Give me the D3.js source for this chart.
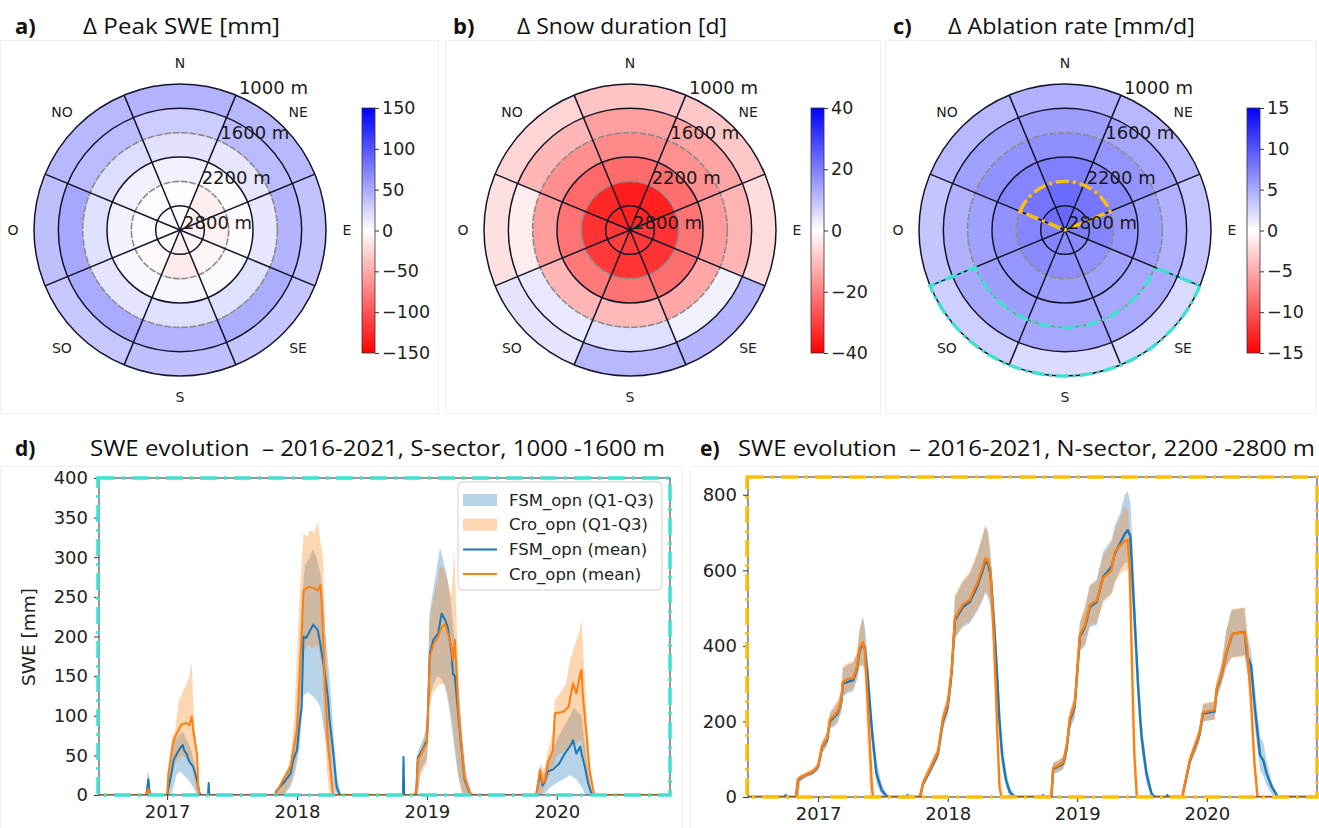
<!DOCTYPE html>
<html><head><meta charset="utf-8">
<script src="https://cdn.jsdelivr.net/npm/d3@7"></script>
<style>body{margin:0;background:#fff}svg{display:block}text{white-space:pre}</style>
</head><body>
<svg id="c" width="1319" height="828"></svg>
<script>
// ---------------- DATA ----------------
const sectors = ["N","NE","E","SE","S","SO","O","NO"];
const elevLabels = ["2800 m","2200 m","1600 m","1000 m"]; // ring edges 0,2,4,6
// rows: ring 0 (centre, 2800-2500 m) ... ring 5 (outer, 1300-1000 m); columns: sectors
const peakSWE = [
  [2,-8,-8,-5,-10,-3,0,2],
  [1,-10,-8,-6,-12,-4,2,2],
  [8,2,1,3,4,4,7,8],
  [17,15,14,18,19,16,18,20],
  [30,40,45,48,45,50,52,40],
  [45,42,36,34,37,33,37,42]
];
const snowDuration = [
  [-35,-34,-31,-31,-31,-30,-31,-34],
  [-35.6,-35,-32,-32,-32,-31,-32,-34],
  [-23.3,-22.7,-21.6,-22.7,-22,-21,-22,-23.6],
  [-18.3,-17.4,-15.5,-13.9,-11,-11.5,-15.5,-17.8],
  [-14.9,-14.3,-11.8,2,5,3.5,-3,-11.5],
  [-9.3,-8.6,-5.5,11.8,11.2,4.2,-4.7,-6.7]
];
const ablationRate = [
  [8.8,8.5,7.6,6.9,6.9,7.2,7.6,8.5],
  [8.7,8.1,7.2,6.5,6.6,6.9,7.2,8.2],
  [7.5,6.9,6.2,5.6,5.7,6.2,6.5,7.2],
  [6.6,6.3,5.7,5.2,5.3,5.7,5.6,6.5],
  [5.7,5.3,4.6,5.0,5.2,5.1,4.6,5.6],
  [4.6,4.2,3.5,2.1,2.1,2.8,3.5,4.2]
];
const ticksA = [150,100,50,0,-50,-100,-150];
const ticksB = [40,20,0,-20,-40];
const ticksC = [15,10,5,0,-5,-10,-15];
const yearTicks = [2017,2018,2019,2020];
const yTicksD = [0,50,100,150,200,250,300,350,400];
const yTicksE = [0,200,400,600,800];
const legendLabels = ["FSM_opn (Q1-Q3)","Cro_opn (Q1-Q3)","FSM_opn (mean)","Cro_opn (mean)"];

// Panel d: S-sector 1000-1600 m  [decimal year, SWE mm]
const dFsmMean = [[2016.45,0],[2016.84,0],[2016.85,12],[2016.856,20],[2016.865,5],[2016.875,0],[2017.0,0],[2017.01,8],[2017.036,30],[2017.05,44],[2017.075,52],[2017.10,59],[2017.12,63],[2017.135,55],[2017.15,52],[2017.165,44],[2017.18,40],[2017.20,36],[2017.23,19],[2017.25,2],[2017.26,0],[2017.315,0],[2017.32,15],[2017.325,0],
[2017.83,0],[2017.84,5],[2017.895,15],[2017.95,27],[2017.97,44],[2018.0,57],[2018.02,91],[2018.035,110],[2018.05,200],[2018.07,198],[2018.09,204],[2018.125,215],[2018.16,208],[2018.18,190],[2018.19,179],[2018.215,153],[2018.24,120],[2018.25,95],[2018.28,52],[2018.305,10],[2018.33,0],
[2018.815,0],[2018.82,48],[2018.825,0],[2018.91,0],[2018.92,10],[2018.93,48],[2018.95,52],[2018.98,62],[2019.0,69],[2019.023,179],[2019.05,196],[2019.087,204],[2019.113,229],[2019.14,221],[2019.16,212],[2019.19,179],[2019.20,153],[2019.215,150],[2019.24,103],[2019.27,52],[2019.29,19],[2019.33,2],[2019.35,0],
[2019.84,0],[2019.85,8],[2019.87,28],[2019.89,12],[2019.91,18],[2019.93,30],[2019.97,32],[2020.02,40],[2020.06,52],[2020.10,61],[2020.125,69],[2020.15,52],[2020.18,61],[2020.19,52],[2020.215,36],[2020.24,15],[2020.27,0],[2020.9,0]];
const dCroMean = [[2016.45,0],[2016.84,0],[2016.856,8],[2016.87,0],[2017.0,0],[2017.01,27],[2017.036,56],[2017.05,69],[2017.075,78],[2017.11,89],[2017.15,91],[2017.17,88],[2017.19,99],[2017.20,82],[2017.23,52],[2017.24,10],[2017.25,0],
[2017.83,0],[2017.84,3],[2017.895,20],[2017.95,35],[2017.97,56],[2018.0,82],[2018.02,153],[2018.035,200],[2018.05,258],[2018.09,263],[2018.125,261],[2018.16,258],[2018.18,265],[2018.19,242],[2018.215,137],[2018.24,61],[2018.27,10],[2018.28,0],
[2018.91,0],[2018.92,10],[2018.93,45],[2018.95,50],[2018.98,60],[2019.0,65],[2019.023,175],[2019.05,190],[2019.087,200],[2019.113,212],[2019.14,215],[2019.16,205],[2019.19,185],[2019.20,170],[2019.215,196],[2019.23,150],[2019.24,110],[2019.27,55],[2019.29,22],[2019.33,3],[2019.35,0],
[2019.84,0],[2019.85,8],[2019.87,32],[2019.89,15],[2019.91,19],[2019.93,40],[2019.97,57],[2019.985,103],[2020.02,104],[2020.05,105],[2020.09,111],[2020.125,141],[2020.15,128],[2020.18,153],[2020.19,158],[2020.20,124],[2020.23,73],[2020.25,32],[2020.28,6],[2020.29,0],[2020.9,0]];
const dFsmQ3 = [[2016.45,0],[2016.84,0],[2016.85,30],[2016.86,25],[2016.87,0],[2017.0,0],[2017.01,15],[2017.04,55],[2017.06,70],[2017.09,75],[2017.12,80],[2017.15,70],[2017.18,60],[2017.21,40],[2017.24,15],[2017.26,0],[2017.315,0],[2017.32,20],[2017.325,0],
[2017.84,0],[2017.85,8],[2017.9,25],[2017.95,40],[2017.98,70],[2018.0,100],[2018.02,180],[2018.04,250],[2018.06,290],[2018.1,300],[2018.12,310],[2018.15,300],[2018.18,280],[2018.2,250],[2018.22,200],[2018.25,150],[2018.28,80],[2018.31,20],[2018.34,0],
[2018.815,0],[2018.82,50],[2018.825,0],[2018.91,0],[2018.93,55],[2018.97,70],[2019.0,90],[2019.02,230],[2019.05,260],[2019.08,290],[2019.1,312],[2019.12,300],[2019.15,280],[2019.18,250],[2019.21,200],[2019.24,140],[2019.27,80],[2019.3,30],[2019.34,5],[2019.36,0],
[2019.84,0],[2019.86,20],[2019.87,35],[2019.9,25],[2019.93,45],[2019.97,55],[2020.0,70],[2020.05,85],[2020.1,100],[2020.13,110],[2020.16,105],[2020.19,100],[2020.21,70],[2020.24,30],[2020.27,5],[2020.29,0],[2020.9,0]];
const dFsmQ1 = [[2016.45,0],[2017.03,0],[2017.05,10],[2017.07,25],[2017.1,30],[2017.13,25],[2017.16,20],[2017.2,10],[2017.23,0],
[2017.9,0],[2017.95,10],[2017.98,25],[2018.0,40],[2018.02,60],[2018.05,125],[2018.08,130],[2018.12,125],[2018.15,120],[2018.18,110],[2018.2,90],[2018.22,70],[2018.25,40],[2018.28,10],[2018.3,0],
[2018.93,0],[2018.95,30],[2019.0,45],[2019.02,120],[2019.05,140],[2019.08,150],[2019.12,145],[2019.15,130],[2019.18,100],[2019.21,60],[2019.24,25],[2019.27,5],[2019.29,0],
[2019.9,0],[2019.95,10],[2020.0,15],[2020.05,20],[2020.1,25],[2020.15,20],[2020.19,10],[2020.22,0],[2020.9,0]];
const dCroQ3 = [[2016.45,0],[2016.85,0],[2016.856,10],[2016.87,0],[2017.0,0],[2017.01,30],[2017.04,75],[2017.06,80],[2017.09,120],[2017.12,130],[2017.15,140],[2017.17,150],[2017.19,168],[2017.2,120],[2017.22,60],[2017.24,15],[2017.25,0],
[2017.84,0],[2017.9,20],[2017.95,45],[2017.98,100],[2018.0,180],[2018.02,250],[2018.05,330],[2018.08,325],[2018.1,335],[2018.13,330],[2018.16,345],[2018.18,320],[2018.2,300],[2018.22,200],[2018.25,100],[2018.27,30],[2018.29,0],
[2018.91,0],[2018.93,50],[2018.97,65],[2019.0,85],[2019.02,220],[2019.05,250],[2019.08,270],[2019.1,290],[2019.13,285],[2019.16,270],[2019.19,250],[2019.21,310],[2019.22,260],[2019.24,160],[2019.27,70],[2019.3,20],[2019.33,0],
[2019.84,0],[2019.86,20],[2019.87,40],[2019.9,30],[2019.93,55],[2019.97,80],[2019.985,120],[2020.03,130],[2020.07,140],[2020.1,170],[2020.13,185],[2020.16,200],[2020.18,210],[2020.19,222],[2020.21,160],[2020.23,100],[2020.25,50],[2020.28,10],[2020.3,0],[2020.9,0]];
const dCroQ1 = [[2016.45,0],[2017.01,0],[2017.02,10],[2017.05,35],[2017.08,45],[2017.12,50],[2017.16,45],[2017.19,40],[2017.21,15],[2017.23,0],
[2017.9,0],[2017.95,15],[2017.98,30],[2018.0,50],[2018.02,100],[2018.05,180],[2018.08,190],[2018.12,185],[2018.16,190],[2018.19,170],[2018.21,90],[2018.23,30],[2018.25,0],
[2018.93,0],[2018.95,25],[2019.0,40],[2019.02,110],[2019.05,130],[2019.1,140],[2019.14,140],[2019.18,110],[2019.21,70],[2019.24,25],[2019.27,0],
[2019.88,0],[2019.93,20],[2019.97,35],[2020.0,50],[2020.05,55],[2020.1,60],[2020.15,65],[2020.19,70],[2020.21,40],[2020.24,10],[2020.26,0],[2020.9,0]];

// Panel e: N-sector 2200-2800 m
const eFsmMean = [[2016.45,0],[2016.74,0],[2016.75,5],[2016.77,0],[2016.83,0],[2016.845,45],[2016.86,50],[2016.90,57],[2016.96,66],[2017.0,80],[2017.03,132],[2017.07,150],[2017.09,200],[2017.12,210],[2017.15,221],[2017.18,252],[2017.19,300],[2017.23,305],[2017.27,309],[2017.30,340],[2017.32,389],[2017.345,405],[2017.36,395],[2017.38,330],[2017.40,240],[2017.42,158],[2017.45,62],[2017.49,18],[2017.53,2],[2017.55,0],
[2017.68,0],[2017.69,5],[2017.70,0],[2017.786,0],[2017.81,35],[2017.864,71],[2017.925,115],[2017.964,203],[2018.0,238],[2018.03,327],[2018.056,468],[2018.118,503],[2018.17,516],[2018.226,556],[2018.27,600],[2018.29,622],[2018.31,618],[2018.33,590],[2018.355,470],[2018.38,330],[2018.40,200],[2018.42,110],[2018.45,45],[2018.48,12],[2018.52,0],
[2018.73,0],[2018.735,5],[2018.74,0],[2018.80,0],[2018.814,75],[2018.85,80],[2018.89,88],[2018.917,125],[2018.943,203],[2018.98,238],[2019.02,424],[2019.06,450],[2019.097,503],[2019.15,516],[2019.20,583],[2019.264,609],[2019.29,644],[2019.33,671],[2019.367,697],[2019.39,706],[2019.41,690],[2019.43,556],[2019.47,291],[2019.496,159],[2019.534,62],[2019.573,9],[2019.60,0],
[2019.69,0],[2019.695,5],[2019.70,0],[2019.81,0],[2019.87,97],[2019.92,142],[2019.945,168],[2019.97,221],[2020.06,226],[2020.075,283],[2020.11,318],[2020.15,380],[2020.19,424],[2020.20,432],[2020.29,437],[2020.31,375],[2020.34,349],[2020.37,234],[2020.41,110],[2020.435,97],[2020.46,62],[2020.50,27],[2020.54,4],[2020.55,0],[2020.9,0]];
const eCroMean = [[2016.45,0],[2016.83,0],[2016.845,48],[2016.86,52],[2016.90,58],[2016.96,68],[2017.0,82],[2017.03,135],[2017.07,155],[2017.09,205],[2017.12,215],[2017.15,226],[2017.18,256],[2017.19,305],[2017.23,312],[2017.27,315],[2017.30,345],[2017.32,395],[2017.345,410],[2017.36,390],[2017.37,330],[2017.39,200],[2017.415,25],[2017.425,0],
[2017.786,0],[2017.81,38],[2017.864,75],[2017.925,120],[2017.964,210],[2018.0,245],[2018.03,335],[2018.056,475],[2018.118,510],[2018.17,522],[2018.226,565],[2018.27,608],[2018.29,632],[2018.31,628],[2018.33,600],[2018.35,468],[2018.37,300],[2018.385,150],[2018.40,26],[2018.415,0],
[2018.80,0],[2018.814,78],[2018.85,82],[2018.89,92],[2018.917,130],[2018.943,210],[2018.98,245],[2019.02,430],[2019.06,455],[2019.097,508],[2019.15,520],[2019.20,580],[2019.264,600],[2019.29,650],[2019.33,665],[2019.367,678],[2019.39,680],[2019.405,600],[2019.42,380],[2019.44,115],[2019.46,0],
[2019.81,0],[2019.87,100],[2019.92,145],[2019.945,172],[2019.97,224],[2020.06,230],[2020.075,286],[2020.11,322],[2020.15,383],[2020.19,426],[2020.20,432],[2020.29,436],[2020.31,393],[2020.34,256],[2020.365,97],[2020.39,0],[2020.9,0]];
const eFsmQ3 = [[2016.45,0],[2016.83,0],[2016.845,50],[2016.86,55],[2016.90,62],[2016.96,72],[2017.0,88],[2017.03,145],[2017.07,170],[2017.09,220],[2017.12,235],[2017.15,250],[2017.18,280],[2017.19,340],[2017.23,350],[2017.27,355],[2017.30,380],[2017.32,440],[2017.345,475],[2017.36,450],[2017.38,380],[2017.40,290],[2017.42,200],[2017.45,95],[2017.49,35],[2017.53,8],[2017.56,0],
[2017.786,0],[2017.81,45],[2017.864,85],[2017.925,130],[2017.964,225],[2018.0,265],[2018.03,360],[2018.056,530],[2018.118,570],[2018.17,590],[2018.226,640],[2018.27,690],[2018.29,715],[2018.31,700],[2018.33,640],[2018.355,540],[2018.38,390],[2018.40,250],[2018.42,150],[2018.45,70],[2018.48,25],[2018.52,5],[2018.54,0],
[2018.80,0],[2018.814,90],[2018.85,95],[2018.89,105],[2018.917,150],[2018.943,225],[2018.98,265],[2019.02,460],[2019.06,500],[2019.097,560],[2019.15,575],[2019.20,650],[2019.264,680],[2019.29,720],[2019.33,750],[2019.367,800],[2019.39,810],[2019.41,780],[2019.43,640],[2019.47,350],[2019.496,200],[2019.534,90],[2019.573,20],[2019.60,0],
[2019.81,0],[2019.87,110],[2019.92,160],[2019.945,185],[2019.97,245],[2020.06,252],[2020.075,305],[2020.11,345],[2020.15,440],[2020.19,495],[2020.29,500],[2020.31,430],[2020.34,390],[2020.37,290],[2020.41,160],[2020.435,145],[2020.46,95],[2020.50,40],[2020.54,8],[2020.56,0],[2020.9,0]];
const eFsmQ1 = [[2016.45,0],[2016.85,0],[2016.86,40],[2016.90,50],[2016.96,58],[2017.0,70],[2017.03,115],[2017.07,135],[2017.09,180],[2017.12,185],[2017.15,195],[2017.18,225],[2017.19,265],[2017.23,275],[2017.27,280],[2017.30,310],[2017.32,345],[2017.345,350],[2017.36,340],[2017.38,280],[2017.40,190],[2017.42,120],[2017.45,35],[2017.49,5],[2017.51,0],
[2017.80,0],[2017.81,25],[2017.864,60],[2017.925,100],[2017.964,180],[2018.0,215],[2018.03,295],[2018.056,420],[2018.118,450],[2018.17,460],[2018.226,490],[2018.27,520],[2018.29,540],[2018.31,530],[2018.33,500],[2018.355,400],[2018.38,270],[2018.40,150],[2018.42,75],[2018.45,25],[2018.48,3],[2018.50,0],
[2018.81,0],[2018.814,60],[2018.85,65],[2018.89,72],[2018.917,100],[2018.943,180],[2018.98,210],[2019.02,385],[2019.06,400],[2019.097,450],[2019.15,455],[2019.20,520],[2019.264,540],[2019.29,570],[2019.33,600],[2019.367,620],[2019.39,620],[2019.41,600],[2019.43,470],[2019.47,230],[2019.496,120],[2019.534,35],[2019.573,2],[2019.59,0],
[2019.82,0],[2019.87,85],[2019.92,125],[2019.945,150],[2019.97,200],[2020.06,205],[2020.075,260],[2020.11,295],[2020.15,345],[2020.19,370],[2020.29,375],[2020.31,330],[2020.34,300],[2020.37,180],[2020.41,70],[2020.435,55],[2020.46,30],[2020.50,8],[2020.53,0],[2020.9,0]];
const eCroQ3 = [[2016.45,0],[2016.83,0],[2016.845,52],[2016.86,58],[2016.90,65],[2016.96,76],[2017.0,92],[2017.03,150],[2017.07,175],[2017.09,225],[2017.12,240],[2017.15,255],[2017.18,285],[2017.19,345],[2017.23,355],[2017.27,360],[2017.30,385],[2017.32,445],[2017.345,480],[2017.36,440],[2017.38,300],[2017.40,120],[2017.42,20],[2017.43,0],
[2017.786,0],[2017.81,48],[2017.864,90],[2017.925,135],[2017.964,230],[2018.0,270],[2018.03,365],[2018.056,535],[2018.118,575],[2018.17,595],[2018.226,645],[2018.27,695],[2018.29,720],[2018.31,705],[2018.33,650],[2018.35,520],[2018.37,350],[2018.385,180],[2018.40,40],[2018.42,0],
[2018.80,0],[2018.814,92],[2018.85,97],[2018.89,108],[2018.917,152],[2018.943,228],[2018.98,268],[2019.02,465],[2019.06,505],[2019.097,560],[2019.15,575],[2019.20,640],[2019.264,670],[2019.29,705],[2019.33,740],[2019.367,770],[2019.39,760],[2019.405,680],[2019.42,450],[2019.44,160],[2019.46,10],[2019.47,0],
[2019.81,0],[2019.87,112],[2019.92,162],[2019.945,188],[2019.97,248],[2020.06,255],[2020.075,308],[2020.11,348],[2020.15,442],[2020.19,497],[2020.29,502],[2020.31,445],[2020.34,300],[2020.365,130],[2020.39,0],[2020.9,0]];
const eCroQ1 = [[2016.45,0],[2016.85,0],[2016.86,42],[2016.90,52],[2016.96,60],[2017.0,72],[2017.03,118],[2017.07,138],[2017.09,185],[2017.12,190],[2017.15,200],[2017.18,230],[2017.19,270],[2017.23,280],[2017.27,285],[2017.30,315],[2017.32,350],[2017.345,345],[2017.36,320],[2017.38,150],[2017.40,20],[2017.41,0],
[2017.80,0],[2017.81,28],[2017.864,62],[2017.925,105],[2017.964,185],[2018.0,220],[2018.03,300],[2018.056,425],[2018.118,455],[2018.17,465],[2018.226,495],[2018.27,525],[2018.29,545],[2018.31,535],[2018.33,520],[2018.35,400],[2018.37,240],[2018.385,100],[2018.40,10],[2018.41,0],
[2018.81,0],[2018.814,62],[2018.85,68],[2018.89,75],[2018.917,105],[2018.943,185],[2018.98,215],[2019.02,390],[2019.06,405],[2019.097,455],[2019.15,460],[2019.20,515],[2019.264,535],[2019.29,565],[2019.33,590],[2019.367,600],[2019.39,600],[2019.405,520],[2019.42,300],[2019.44,70],[2019.455,0],
[2019.82,0],[2019.87,85],[2019.92,125],[2019.945,150],[2019.97,200],[2020.06,205],[2020.075,260],[2020.11,295],[2020.15,345],[2020.19,368],[2020.29,372],[2020.31,340],[2020.34,200],[2020.365,60],[2020.385,0],[2020.9,0]];

// ---------------- DRAWING ----------------
const svg = d3.select("#c");
const defs = svg.append("defs");
const deg = Math.PI/180;
const FONT = "DejaVu Sans, sans-serif";
const TFONT = "Open Sans, Liberation Sans, sans-serif";
const BLUE = "#1f77b4", ORANGE = "#ff7f0e";
const CYAN = "#40e0d0", GOLD = "#fcbf0c";

// faint image borders
[[0,40,438,373],[445,40,435,373],[885,40,430,373],[0,466,682,362],[690,466,629,362]].forEach(b=>{
  svg.append("rect").attr("x",b[0]+0.5).attr("y",b[1]+0.5).attr("width",b[2]).attr("height",b[3])
    .attr("fill","none").attr("stroke","#f0f0f0");
});

function title(letter, lx, txt, tx, tw, base, size){
  svg.append("text").attr("x",lx).attr("y",base).attr("font-family",TFONT).attr("font-weight","bold")
    .attr("font-size",size).attr("fill","#111").text(letter);
  svg.append("text").attr("x",tx).attr("y",base).attr("font-family",TFONT)
    .attr("font-size",size).attr("fill","#111").attr("textLength",tw).attr("lengthAdjust","spacingAndGlyphs").text(txt);
}

const R = 146;
const rScale = d3.scaleLinear().domain([0,6]).range([0,R]);

function polar(cfg){
  const g = svg.append("g").attr("transform",`translate(${cfg.cx},${cfg.cy})`);
  const color = d3.scaleLinear().domain([-cfg.max,0,cfg.max]).range(["#ff0000","#ffffff","#0000ff"]);
  const arc = d3.arc();
  cfg.values.forEach((row,k)=>row.forEach((v,i)=>{
    g.append("path").attr("d",arc({innerRadius:rScale(k),outerRadius:rScale(k+1),
      startAngle:(i*45-22.5)*deg,endAngle:(i*45+22.5)*deg})).attr("fill",color(v));
  }));
  [2,4].forEach(k=>g.append("circle").attr("r",rScale(k)).attr("fill","none")
    .attr("stroke","#8c8c8c").attr("stroke-width",1.6).attr("stroke-dasharray","7,1.5"));
  [1,3,5,6].forEach(k=>g.append("circle").attr("r",rScale(k)).attr("fill","none")
    .attr("stroke","#15152a").attr("stroke-width",1.5));
  sectors.forEach((s,i)=>{
    const a=(i*45+22.5)*deg;
    g.append("line").attr("x1",0).attr("y1",0).attr("x2",R*Math.sin(a)).attr("y2",-R*Math.cos(a))
      .attr("stroke","#15152a").attr("stroke-width",1.5);
    const b=i*45*deg, rl=167;
    g.append("text").attr("x",rl*Math.sin(b)).attr("y",-rl*Math.cos(b)).attr("text-anchor","middle")
      .attr("dominant-baseline","central").attr("font-family",FONT).attr("font-size",14).attr("fill","#222").text(s);
  });
  if(cfg.highlights){
    cfg.highlights.forEach(h=>{
      g.append("path").attr("d",arc({innerRadius:rScale(h.r0),outerRadius:rScale(h.r1),
        startAngle:h.a0*deg,endAngle:h.a1*deg})).attr("fill","none").attr("stroke",h.color)
        .attr("stroke-width",3.4).attr("stroke-dasharray","13,4,3,4");
    });
  }
  elevLabels.forEach((t,j)=>{
    const r=rScale(j*2)+8, a=22.5*deg;
    g.append("text").attr("x",r*Math.sin(a)).attr("y",-r*Math.cos(a)).attr("dominant-baseline","central")
      .attr("font-family",FONT).attr("font-size",18).attr("fill","#1a1a1a").text(t);
  });
  // colorbar
  const gid="grad"+cfg.id;
  const gr=defs.append("linearGradient").attr("id",gid).attr("x1",0).attr("y1",0).attr("x2",0).attr("y2",1);
  [[0,"#0000ff"],[0.5,"#ffffff"],[1,"#ff0000"]].forEach(s=>gr.append("stop").attr("offset",s[0]).attr("stop-color",s[1]));
  const cy=d3.scaleLinear().domain([-cfg.max,cfg.max]).range([353,108]);
  svg.append("rect").attr("x",cfg.cbx).attr("y",108).attr("width",13).attr("height",245)
    .attr("fill",`url(#${gid})`).attr("stroke","#333").attr("stroke-width",0.8);
  const ax=svg.append("g").attr("transform",`translate(${cfg.cbx+13},0)`)
    .call(d3.axisRight(cy).tickValues(cfg.ticks).tickSize(4).tickPadding(3)
      .tickFormat(d=>d<0?"\u2212"+(-d):d));
  ax.select(".domain").remove();
  ax.selectAll("text").attr("font-family",FONT).attr("font-size",17.5).attr("fill","#222");
  ax.selectAll("line").attr("stroke","#333");
}

polar({id:"a",cx:180,cy:230,values:peakSWE,max:150,ticks:ticksA,cbx:362});
polar({id:"b",cx:630,cy:230,values:snowDuration,max:40,ticks:ticksB,cbx:811});
polar({id:"c",cx:1065,cy:230,values:ablationRate,max:15,ticks:ticksC,cbx:1247,
  highlights:[{r0:0,r1:2,a0:-67.5,a1:67.5,color:GOLD},{r0:4,r1:6,a0:112.5,a1:247.5,color:CYAN}]});

title("a)",15,"\u0394 Peak SWE [mm]",83,197,34,22);
title("b)",453,"\u0394 Snow duration [d]",517,210,34,22);
title("c)",893,"\u0394 Ablation rate [mm/d]",948,247,34,22);

function yr(t){const y=Math.floor(t);const s=Date.UTC(y,0,1),e=Date.UTC(y+1,0,1);return new Date(s+(t-y)*(e-s));}

function series(cfg){
  const x=d3.scaleUtc().domain([yr(cfg.x0),yr(cfg.x1)]).range([cfg.l,cfg.r]);
  const y=d3.scaleLinear().domain([0,cfg.ymax]).range([cfg.b,cfg.t]);
  const cid="clip"+cfg.id;
  defs.append("clipPath").attr("id",cid).append("rect").attr("x",cfg.l).attr("y",cfg.t)
    .attr("width",cfg.r-cfg.l).attr("height",cfg.b-cfg.t);
  const g=svg.append("g").attr("clip-path",`url(#${cid})`);
  const line=d3.line().x(d=>x(yr(d[0]))).y(d=>y(d[1]));
  const band=(q3,q1,c)=>g.append("path").attr("d",line(q3.concat(q1.slice().reverse()))+"Z")
    .attr("fill",c).attr("fill-opacity",0.32).attr("stroke","none");
  band(cfg.fq3,cfg.fq1,BLUE);
  band(cfg.cq3,cfg.cq1,ORANGE);
  g.append("path").attr("d",line(cfg.fm)).attr("fill","none").attr("stroke",BLUE).attr("stroke-width",cfg.lw).attr("stroke-linejoin","round");
  g.append("path").attr("d",line(cfg.cm)).attr("fill","none").attr("stroke",ORANGE).attr("stroke-width",cfg.lw).attr("stroke-linejoin","round");

  const xa=svg.append("g").attr("transform",`translate(0,${cfg.b})`)
    .call(d3.axisBottom(x).tickValues(yearTicks.map(yr)).tickFormat(d3.utcFormat("%Y")).tickSize(5).tickPadding(5).tickSizeOuter(0));
  const ya=svg.append("g").attr("transform",`translate(${cfg.l},0)`)
    .call(d3.axisLeft(y).tickValues(cfg.yticks).tickSize(5).tickPadding(6).tickSizeOuter(0));
  [xa,ya].forEach(a=>{a.select(".domain").remove();
    a.selectAll("text").attr("font-family",FONT).attr("font-size",18).attr("fill","#222");
    a.selectAll("line").attr("stroke","#333");});
  svg.append("rect").attr("x",cfg.l).attr("y",cfg.t).attr("width",cfg.r-cfg.l).attr("height",cfg.b-cfg.t)
    .attr("fill","none").attr("stroke","#333").attr("stroke-width",1);
  svg.append("rect").attr("x",cfg.l-1).attr("y",cfg.t).attr("width",cfg.r-cfg.l+1).attr("height",cfg.b-cfg.t)
    .attr("fill","none").attr("stroke",cfg.frame).attr("stroke-width",3.5).attr("stroke-dasharray","17,7,3,7");
  return {x,y};
}

series({id:"d",l:99,r:670,t:478,b:795,x0:2016.477,x1:2020.869,ymax:400,yticks:yTicksD,lw:2,
  fm:dFsmMean,cm:dCroMean,fq3:dFsmQ3,fq1:dFsmQ1,cq3:dCroQ3,cq1:dCroQ1,frame:CYAN});
series({id:"e",l:748,r:1317,t:477,b:797,x0:2016.460,x1:2020.848,ymax:847,yticks:yTicksE,lw:2.4,
  fm:eFsmMean,cm:eCroMean,fq3:eFsmQ3,fq1:eFsmQ1,cq3:eCroQ3,cq1:eCroQ1,frame:GOLD});

svg.append("text").attr("transform","translate(28,637) rotate(-90)").attr("text-anchor","middle")
  .attr("dominant-baseline","central")
  .attr("font-family",FONT).attr("font-size",18.5).attr("fill","#222").text("SWE [mm]");

title("d)",15,"SWE evolution  \u2013 2016-2021, S-sector, 1000 -1600 m",90,575,456,21);
title("e)",700,"SWE evolution  \u2013 2016-2021, N-sector, 2200 -2800 m",738,577,456,21);

// legend (panel d)
const lg=svg.append("g");
lg.append("rect").attr("x",458).attr("y",482).attr("width",204).attr("height",108).attr("rx",4)
  .attr("fill","#fff").attr("fill-opacity",0.85).attr("stroke","#d0d0d0");
legendLabels.forEach((t,i)=>{
  const yy=500+i*24.7;
  if(i<2){
    lg.append("rect").attr("x",463).attr("y",yy-6).attr("width",34).attr("height",12)
      .attr("fill",i===0?BLUE:ORANGE).attr("fill-opacity",0.32);
  } else {
    lg.append("line").attr("x1",463).attr("x2",497).attr("y1",yy).attr("y2",yy)
      .attr("stroke",i===2?BLUE:ORANGE).attr("stroke-width",2);
  }
  lg.append("text").attr("x",509).attr("y",yy).attr("dominant-baseline","central")
    .attr("font-family",FONT).attr("font-size",16.5).attr("fill","#222").text(t);
});
</script>
</body></html>
